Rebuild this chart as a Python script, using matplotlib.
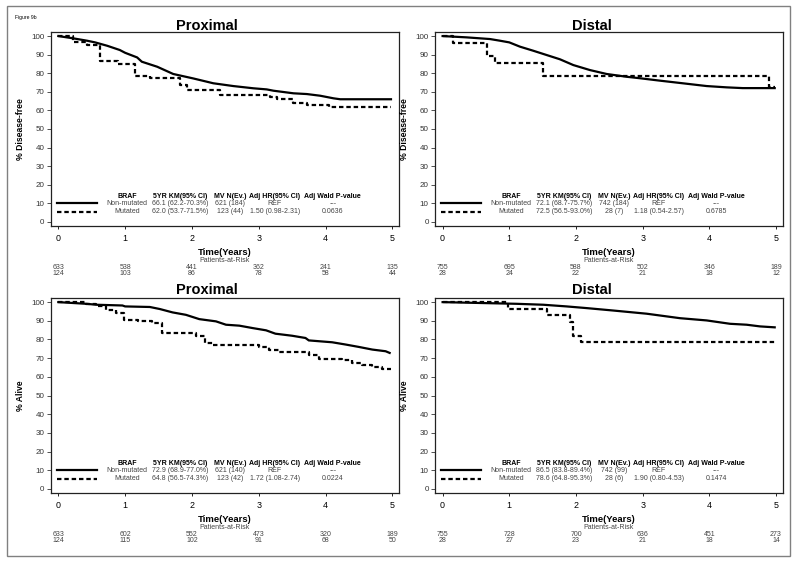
from matplotlib import pyplot as plt
from matplotlib.patches import Rectangle

plt.rcParams['font.family'] = ['Liberation Sans', 'DejaVu Sans']

# ---------------- data ----------------
years = [0, 1, 2, 3, 4, 5]
groups = ["Non-mutated", "Mutated"]
head = ["BRAF", "5YR KM(95% CI)", "MV N(Ev.)", "Adj HR(95% CI)", "Adj Wald P-value"]

# Proximal, disease-free (wt = non-mutated, mt = mutated)
prox_dfs_wt_t = [0, 0.22, 0.43, 0.55, 0.73, 0.92, 1.0, 1.18, 1.25, 1.48, 1.72, 2.02, 2.32,
                 2.62, 2.92, 3.12, 3.22, 3.52, 3.72, 3.92, 4.12, 4.22, 4.98]
prox_dfs_wt_s = [100, 98.8, 97.5, 96.6, 94.8, 92.5, 91.0, 88.5, 86.2, 83.5, 79.6, 77.2, 74.6,
                 73.1, 71.9, 71.3, 70.6, 69.2, 68.8, 67.9, 66.5, 66.0, 66.0]
prox_dfs_mt_t = [0, 0.22, 0.43, 0.63, 0.9, 1.15, 1.37, 1.82, 1.92, 2.42, 3.17, 3.27, 3.52,
                 3.72, 4.05, 4.98]
prox_dfs_mt_s = [100, 97.0, 95.2, 86.7, 85.0, 78.5, 77.2, 73.7, 71.0, 68.5, 67.4, 66.0, 63.8,
                 62.9, 61.7, 61.7]
prox_dfs_stats = [["66.1 (62.2-70.3%)", "621 (184)", "REF", "---"],
                  ["62.0 (53.7-71.5%)", "123 (44)", "1.50 (0.98-2.31)", "0.0636"]]
prox_dfs_risk = [[633, 538, 441, 362, 241, 135], [124, 103, 86, 78, 58, 44]]

# Distal, disease-free
dist_dfs_wt_t = [0, 0.36, 0.71, 0.86, 1.0, 1.16, 1.36, 1.56, 1.76, 1.96, 2.21, 2.46, 2.76,
                 2.96, 3.26, 3.6, 3.96, 4.26, 4.5, 4.98]
dist_dfs_wt_s = [100, 99.3, 98.4, 97.5, 96.6, 94.3, 92.1, 89.8, 87.5, 84.4, 81.7, 79.6, 78.1,
                 77.3, 76.0, 74.6, 73.1, 72.4, 72.0, 72.0]
dist_dfs_mt_t = [0, 0.15, 0.67, 0.78, 1.5, 4.9, 4.98]
dist_dfs_mt_s = [100, 96.4, 89.3, 85.7, 78.6, 72.5, 72.5]
dist_dfs_stats = [["72.1 (68.7-75.7%)", "742 (184)", "REF", "---"],
                  ["72.5 (56.5-93.0%)", "28 (7)", "1.18 (0.54-2.57)", "0.6785"]]
dist_dfs_risk = [[755, 695, 588, 502, 346, 189], [28, 24, 22, 21, 18, 12]]

# Proximal, overall survival
prox_os_wt_t = [0, 0.42, 0.57, 0.96, 1.0, 1.37, 1.52, 1.71, 1.91, 2.11, 2.36, 2.51, 2.71,
                2.91, 3.11, 3.25, 3.5, 3.7, 3.75, 4.1, 4.3, 4.5, 4.7, 4.9, 4.96]
prox_os_wt_s = [100, 99.1, 98.6, 98.2, 97.7, 97.4, 96.3, 94.5, 93.2, 90.9, 89.7, 87.9, 87.4,
                86.1, 84.9, 83.1, 82.0, 80.8, 79.5, 78.5, 77.3, 76.0, 74.6, 73.7, 72.8]
prox_os_mt_t = [0, 0.42, 0.57, 0.72, 0.87, 0.98, 1.2, 1.4, 1.55, 2.06, 2.2, 2.31, 3.0, 3.16,
                3.3, 3.75, 3.9, 4.25, 4.4, 4.55, 4.7, 4.85, 4.98]
prox_os_mt_s = [100, 99.0, 97.7, 95.9, 94.1, 90.2, 89.7, 88.8, 83.5, 81.7, 78.2, 77.3, 76.0,
                74.2, 73.2, 71.9, 69.6, 68.9, 67.5, 66.6, 65.4, 64.3, 64.3]
prox_os_stats = [["72.9 (68.9-77.0%)", "621 (140)", "REF", "---"],
                 ["64.8 (56.5-74.3%)", "123 (42)", "1.72 (1.08-2.74)", "0.0224"]]
prox_os_risk = [[633, 602, 552, 473, 320, 189], [124, 115, 102, 91, 68, 50]]

# Distal, overall survival
dist_os_wt_t = [0, 0.61, 1.11, 1.51, 1.86, 2.16, 2.56, 3.06, 3.56, 3.96, 4.31, 4.56, 4.76, 4.98]
dist_os_wt_s = [100, 99.5, 99.1, 98.6, 97.7, 96.8, 95.5, 93.8, 91.4, 90.2, 88.4, 87.9, 87.0, 86.5]
dist_os_mt_t = [0, 0.98, 1.56, 1.91, 1.96, 2.08, 4.98]
dist_os_mt_s = [100, 96.4, 92.9, 89.3, 82.1, 78.6, 78.6]
dist_os_stats = [["86.5 (83.8-89.4%)", "742 (99)", "REF", "---"],
                 ["78.6 (64.8-95.3%)", "28 (6)", "1.90 (0.80-4.53)", "0.1474"]]
dist_os_risk = [[755, 728, 700, 636, 451, 273], [28, 27, 23, 21, 18, 14]]

# ---------------- layout ----------------
W, H = 800, 564
fig = plt.figure(figsize=(W / 100, H / 100), dpi=100)

col_x = [1.03, 1.82, 2.57, 3.24, 4.11]   # table columns (data x)
grey = '#444444'
small = 5.0


def panel(rect, title, title_x, title_y, ylab, wt, mt, stats, risk):
    ax = fig.add_axes(rect)
    h_px = rect[3] * H
    # many events -> drawn as a smooth line; few events -> visible steps
    ax.plot(wt[0], wt[1], color='black', lw=1.6, solid_joinstyle='miter')
    ax.plot(mt[0], mt[1], drawstyle='steps-post', color='black', lw=1.6, dashes=(2.0, 1.3))
    ax.set_xlim(-0.114, 5.1)
    ax.set_ylim(-2.2, 102.2)
    ax.set_xticks(years)
    ax.set_yticks(range(0, 101, 10))
    ax.tick_params(axis='y', labelsize=5.8, length=3, width=0.6, pad=1.5, colors='#333333')
    ax.tick_params(axis='x', labelsize=6.4, length=2.5, width=0.6, pad=3.5)
    for sp in ax.spines.values():
        sp.set_linewidth(0.9)
        sp.set_color('#222222')

    # inset table with line samples
    ax.plot([-0.02, 0.58], [10, 10], color='black', lw=1.6)
    ax.plot([-0.02, 0.58], [5.5, 5.5], color='black', lw=1.6, dashes=(2.0, 1.3))
    for x, txt in zip(col_x, head):
        ax.text(x, 13.6, txt, ha='center', va='center', fontsize=small, weight='bold')
    for row, (y, g) in enumerate(zip([9.8, 5.4], groups)):
        ax.text(col_x[0], y, g, ha='center', va='center', fontsize=small, color=grey)
        for x, txt in zip(col_x[1:], stats[row]):
            ax.text(x, y, txt, ha='center', va='center', fontsize=small, color=grey)

    # labels
    ax.set_ylabel(ylab, fontsize=6.2, weight='bold', va='center')
    ax.yaxis.set_label_coords(-30.0 / (rect[2] * W), 0.5)
    ax.set_xlabel('Time(Years)', fontsize=6.8, weight='bold')
    ax.xaxis.label.set_va('center')
    ax.xaxis.set_label_coords(0.5, -26.5 / h_px)
    ax.annotate('Patients-at-Risk', xy=(0.5, 0), xycoords='axes fraction',
                xytext=(0, -34.5), textcoords='offset pixels',
                ha='center', va='center', fontsize=small, color=grey)
    for off, counts in zip([-41.8, -47.6], risk):
        for yr, n in zip(years, counts):
            ax.annotate(str(n), xy=(yr, 0), xycoords=('data', 'axes fraction'),
                        xytext=(0, off), textcoords='offset pixels',
                        ha='center', va='center', fontsize=small, color=grey)

    fig.text(title_x / W, 1 - title_y / H, title, ha='center', va='baseline',
             fontsize=10.5, weight='bold')
    return ax


top = [0.5993, 0.344]
bot = [0.1259, 0.3457]
left = [50.7 / W, 348.3 / W]
right = [435 / W, 347.7 / W]

panel([left[0], top[0], left[1], top[1]], 'Proximal', 207, 29.5, '% Disease-free',
      (prox_dfs_wt_t, prox_dfs_wt_s), (prox_dfs_mt_t, prox_dfs_mt_s), prox_dfs_stats, prox_dfs_risk)
panel([right[0], top[0], right[1], top[1]], 'Distal', 591.7, 29.5, '% Disease-free',
      (dist_dfs_wt_t, dist_dfs_wt_s), (dist_dfs_mt_t, dist_dfs_mt_s), dist_dfs_stats, dist_dfs_risk)
panel([left[0], bot[0], left[1], bot[1]], 'Proximal', 207, 294.5, '% Alive',
      (prox_os_wt_t, prox_os_wt_s), (prox_os_mt_t, prox_os_mt_s), prox_os_stats, prox_os_risk)
panel([right[0], bot[0], right[1], bot[1]], 'Distal', 591.7, 294.5, '% Alive',
      (dist_os_wt_t, dist_os_wt_s), (dist_os_mt_t, dist_os_mt_s), dist_os_stats, dist_os_risk)

# page frame and figure tag
fig.patches.append(Rectangle((7 / W, 1 - 556 / H), 783 / W, 550 / H, transform=fig.transFigure,
                             fill=False, edgecolor='#808080', lw=1.0))
fig.text(15 / W, 1 - 17 / H, 'Figure 9b', fontsize=3.6, va='center')

fig.savefig('out.png', dpi=100)
